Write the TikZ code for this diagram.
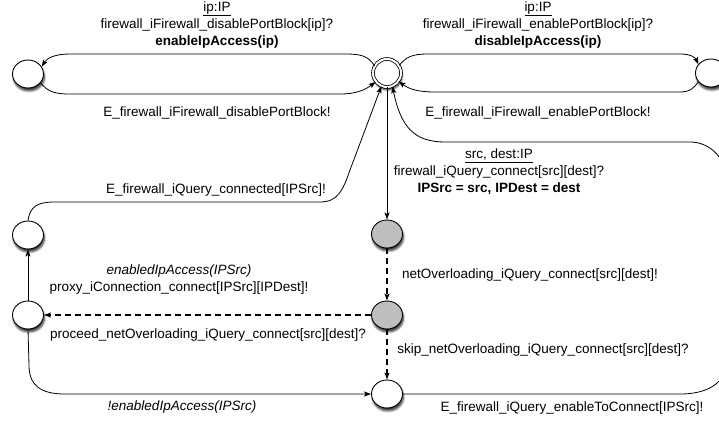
\documentclass[tikz,border=0pt]{standalone}
\usepackage{fontspec}
\setmainfont{Liberation Sans}
\usetikzlibrary{arrows.meta,shapes.geometric,shadows,shadows.blur}
\definecolor{stategray}{RGB}{190,190,190}
\begin{document}
\begin{tikzpicture}[x=1pt,y=-1pt,
  every node/.style={font=\fontsize{13.5}{17}\selectfont},
  shad/.style={blur shadow={shadow xshift=1pt,shadow yshift=-3pt,shadow opacity=80,shadow blur steps=6,shadow blur radius=2pt}},
  st/.style={ellipse,draw,line width=0.9pt,minimum width=31pt,minimum height=28pt,inner sep=0pt,fill=white,shad},
  gst/.style={st,fill=stategray},
  initst/.style={circle,draw,double,double distance=2pt,line width=0.8pt,minimum size=28pt,inner sep=0pt,fill=white,shad},
  tr/.style={line width=0.8pt,-{Stealth[length=7pt,width=5pt,inset=1.5pt]}},
  dtr/.style={tr,line width=1.1pt,dash pattern=on 6pt off 4pt},
  lbl/.style={align=center,inner sep=0pt}
]
\useasboundingbox (0,0) rectangle (719,421);
\clip (0,0) rectangle (719,421);

% states
\node[initst] (init) at (387,73) {};
\node[st] (L1) at (28,74) {};
\node[st] (R1) at (711,73) {};
\node[gst] (G1) at (387,234) {};
\node[gst] (G2) at (387,315) {};
\node[st] (B) at (387,394) {};
\node[st] (LM) at (28,235) {};
\node[st] (L2) at (28,315) {};

% top-left loop
\draw[tr] (init.150) .. controls (368,56) and (362,54) .. (345,54) -- (70,54) .. controls (55,54) and (47,58) .. (L1.28);
\draw[tr] (L1.-35) .. controls (48,92) and (55,94) .. (70,94) -- (340,94) .. controls (356,94) and (365,90) .. (init.-142);
% top-right loop
\draw[tr] (init.32) .. controls (406,57) and (412,54) .. (428,54) -- (680,54) .. controls (690,54) and (695,57) .. (R1.145);
\draw[tr] (R1.-145) .. controls (694,88) and (690,92) .. (680,92) -- (435,92) .. controls (418,92) and (409,89) .. (init.-36);

% central column
\draw[tr] (init.south) -- (G1.north);
\draw[dtr] (G1.south) -- (G2.north);
\draw[dtr] (G2.west) -- (L2.east);
\draw[dtr] (G2.south) -- (B.north);

% left column
\draw[tr] (L2.north) -- (LM.south);
\draw[tr] (L2.south) -- (29,365) .. controls (29,385) and (40,394) .. (65,394) -- (B.west);
\draw[tr] (LM.north) .. controls (30,206) and (38,202) .. (55,202) -- (320,202) .. controls (338,202) and (343,190) .. (350,170) -- (init.-113);

% long right return
\draw[tr] (B.east) -- (680,394) .. controls (705,394) and (722,385) .. (726,368) -- (726,172) .. controls (722,155) and (708,142) .. (690,142) -- (445,142) .. controls (415,142) and (401,128) .. (init.-68);

% labels
\node[lbl] (t1) at (217,25) {\underline{ip:IP}\\firewall\_iFirewall\_disablePortBlock[ip]?\\\textbf{enableIpAccess(ip)}};
\node[lbl] (t2) at (217,113) {E\_firewall\_iFirewall\_disablePortBlock!};
\node[lbl] (t3) at (538,25) {\underline{ip:IP}\\firewall\_iFirewall\_enablePortBlock[ip]?\\\textbf{disableIpAccess(ip)}};
\node[lbl] (t4) at (538,113) {E\_firewall\_iFirewall\_enablePortBlock!};
\node[lbl] (t5) at (499,172) {\underline{src, dest:IP}\\firewall\_iQuery\_connect[src][dest]?\\\textbf{IPSrc = src, IPDest = dest}};
\node[lbl] (t6) at (216,190) {E\_firewall\_iQuery\_connected[IPSrc]!};
\node[lbl] (t7) at (530,275) {netOverloading\_iQuery\_connect[src][dest]!};
\node[lbl] (t8) at (179,280) {\textit{enabledIpAccess(IPSrc)}\\proxy\_iConnection\_connect[IPSrc][IPDest]!};
\node[lbl] (t9) at (208,335) {proceed\_netOverloading\_iQuery\_connect[src][dest]?};
\node[lbl] (t10) at (543,350) {skip\_netOverloading\_iQuery\_connect[src][dest]?};
\node[lbl] (t11) at (182,407) {\textit{!enabledIpAccess(IPSrc)}};
\node[lbl] (t12) at (572,408) {E\_firewall\_iQuery\_enableToConnect[IPSrc]!};
\end{tikzpicture}
\end{document}
